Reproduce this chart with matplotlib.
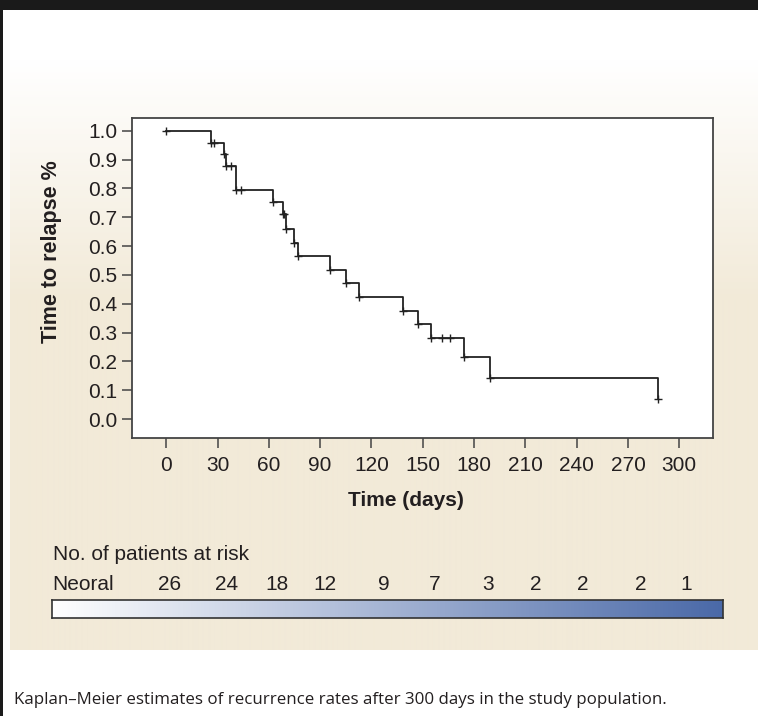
import numpy as np
import matplotlib
matplotlib.use("Agg")
import matplotlib.pyplot as plt
from matplotlib.colors import LinearSegmentedColormap
from matplotlib.patches import Rectangle

# ---------------- data ----------------
event_days = [0, 26, 33.5, 35, 41, 62.5, 68, 70, 75, 77, 96, 105, 112.5,
              138.5, 147, 155, 174, 189.5, 287.5]
survival = [1.0, 0.958, 0.919, 0.877, 0.794, 0.752, 0.711, 0.661, 0.612,
            0.566, 0.517, 0.472, 0.424, 0.376, 0.329, 0.281, 0.214, 0.143, 0.069]
censor_days = [28, 38, 43.5, 69, 161.5, 166]
censor_surv = [0.958, 0.877, 0.794, 0.711, 0.281, 0.281]

x_ticks = [0, 30, 60, 90, 120, 150, 180, 210, 240, 270, 300]
y_ticks = [0.0, 0.1, 0.2, 0.3, 0.4, 0.5, 0.6, 0.7, 0.8, 0.9, 1.0]

risk_group = "Neoral"
risk_counts = [26, 24, 18, 12, 9, 7, 3, 2, 2, 2, 1]

caption = "Kaplan\u2013Meier estimates of recurrence rates after 300 days in the study population."

# ---------------- layout ----------------
W, H = 758, 716
fig = plt.figure(figsize=(W / 100, H / 100), dpi=100)
fig.patch.set_facecolor("white")

def fx(px):
    return px / W

def fy(py):
    return 1 - py / H

beige = np.array([242, 234, 216]) / 255.0

# background panel with gradient from white to beige
bg = fig.add_axes([0, 0, 1, 1], zorder=0)
bg.axis("off")
rows = np.arange(10, 650)
t = np.clip((rows - 60) / (300 - 60), 0, 1)[:, None]
grad = (1 - t) * np.array([1, 1, 1]) + t * beige
img = np.repeat(grad[:, None, :], 2, axis=1)
bg.imshow(img, extent=[10, W, 650, 10], aspect="auto", interpolation="bilinear")
bg.add_patch(Rectangle((0, 0), W, 10, color="#1a1a1a", lw=0))
bg.add_patch(Rectangle((0, 0), 3, H, color="#1a1a1a", lw=0))
bg.set_xlim(0, W)
bg.set_ylim(H, 0)

FONT = ["Liberation Sans", "DejaVu Sans"]
FS = 15
TXT = "#231f20"

# main axes
L, R, T, B = 131.5, 713, 118, 438.3
ax = fig.add_axes([fx(L), fy(B), fx(R - L), (B - T) / H], zorder=2)
ax.set_facecolor("white")
ax.set_xlim(-20.3, 319.7)
ax.set_ylim(-0.0665, 1.0445)

ax.step(event_days, survival, where="post", color="#222222", lw=1.3, zorder=3)
ax.plot(event_days, survival, linestyle="none", marker="+", ms=6, mew=1.0,
        color="#222222", zorder=4)
ax.plot(censor_days, censor_surv, linestyle="none", marker="+", ms=6, mew=1.0,
        color="#222222", zorder=4)

ax.set_xticks(x_ticks)
ax.set_xticklabels([str(v) for v in x_ticks], fontfamily=FONT, fontsize=FS, color=TXT)
ax.set_yticks(y_ticks)
ax.set_yticklabels([f"{v:.1f}" for v in y_ticks], fontfamily=FONT, fontsize=FS, color=TXT)
ax.tick_params(axis="both", direction="out", length=7, width=1.1, color="#444444")
ax.tick_params(axis="x", pad=6)
ax.tick_params(axis="y", pad=3)
for s in ax.spines.values():
    s.set_color("#444444")
    s.set_linewidth(1.3)

fig.text(fx(406), fy(500), "Time (days)", ha="center", va="center",
         fontfamily=FONT, fontsize=FS, fontweight="bold", color=TXT)
fig.text(fx(52), fy(252), "Time to relapse %", ha="center", va="center",
         rotation=90, fontfamily=FONT, fontsize=15.5, fontweight="bold", color=TXT)

# risk table
fig.text(fx(52.5), fy(554), "No. of patients at risk", ha="left", va="center",
         fontfamily=FONT, fontsize=FS, color=TXT)
fig.text(fx(52.5), fy(585), risk_group, ha="left", va="center",
         fontfamily=FONT, fontsize=FS, color=TXT)
risk_px = [170, 227, 277, 325, 384, 435, 488, 536, 583, 641, 686]
for xp, n in zip(risk_px, risk_counts):
    fig.text(fx(xp), fy(585), str(n), ha="center", va="center",
             fontfamily=FONT, fontsize=FS, color=TXT)

# gradient bar
bx0, bx1, by0, by1 = 52, 723, 599.5, 618
bar = fig.add_axes([fx(bx0), fy(by1), fx(bx1 - bx0), (by1 - by0) / H], zorder=2)
cmap = LinearSegmentedColormap.from_list("risk", ["#ffffff", "#4a69a8"])
bar.imshow(np.linspace(0, 1, 512)[None, :], cmap=cmap, aspect="auto",
           extent=[0, 1, 0, 1])
bar.set_xticks([])
bar.set_yticks([])
for s in bar.spines.values():
    s.set_color("#333333")
    s.set_linewidth(1.2)

# caption
fig.text(fx(14), fy(700), caption, ha="left", va="center",
         fontfamily=["Open Sans", "DejaVu Sans"], fontsize=12.2, color=TXT)

fig.savefig("out.png", dpi=100, facecolor="white")
